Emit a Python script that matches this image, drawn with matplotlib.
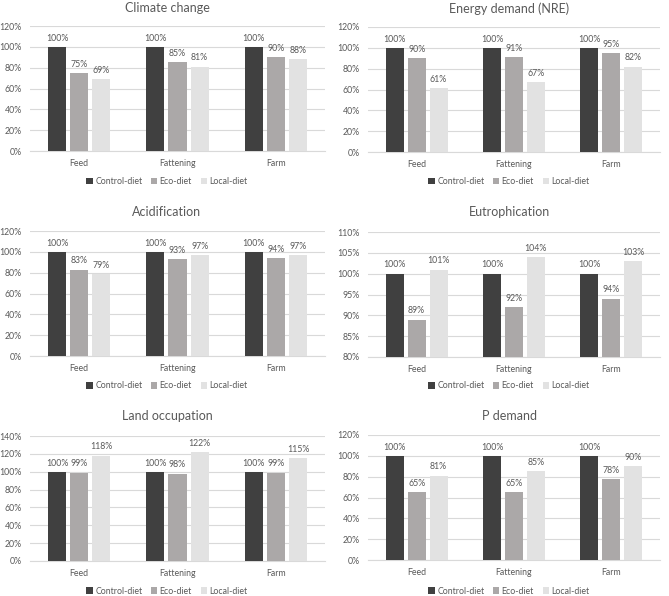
import numpy as np
import matplotlib
matplotlib.use("Agg")
import matplotlib.pyplot as plt
from matplotlib.ticker import PercentFormatter

categories = ["Feed", "Fattening", "Farm"]
series_names = ["Control-diet", "Eco-diet", "Local-diet"]

titles = ["Climate change", "Energy demand (NRE)", "Acidification",
          "Eutrophication", "Land occupation", "P demand"]

climate = [[100, 100, 100], [75, 85, 90], [69, 81, 88]]
energy = [[100, 100, 100], [90, 91, 95], [61, 67, 82]]
acid = [[100, 100, 100], [83, 93, 94], [79, 97, 97]]
eutro = [[100, 100, 100], [89, 92, 94], [101, 104, 103]]
land = [[100, 100, 100], [99, 98, 99], [118, 122, 115]]
pdem = [[100, 100, 100], [65, 65, 78], [81, 85, 90]]
all_data = [climate, energy, acid, eutro, land, pdem]

y_ranges = [(0, 120, 20), (0, 120, 20), (0, 120, 20),
            (80, 110, 5), (0, 140, 20), (0, 120, 20)]

colors = ["#404040", "#ABA8A8", "#E2E2E2"]
text_col = "#595959"
grid_col = "#D9D9D9"

plt.rcParams['font.family'] = ['Lato', 'DejaVu Sans']

W, H = 669, 596
fig = plt.figure(figsize=(W / 100, H / 100), dpi=100)

# plot areas in pixels: left, top, right, bottom
boxes = [(30, 26, 325, 151), (368, 27, 660, 152),
         (30, 231, 325, 356), (368, 232, 660, 357),
         (30, 436, 325, 561), (368, 435, 660, 560)]
title_y = [8, 9, 212, 212, 416, 416]
legend_y = [182, 182, 386, 386, 591, 591]
panel_cx = [167, 509]


def px_axes(l, t, r, b):
    return fig.add_axes([l / W, 1 - b / H, (r - l) / W, (b - t) / H])


x = np.arange(len(categories))
bw = 0.185
gap = 0.04

for i, (box, data, title) in enumerate(zip(boxes, all_data, titles)):
    ax = px_axes(*box)
    lo, hi, step = y_ranges[i]
    for j, (vals, name, c) in enumerate(zip(data, series_names, colors)):
        xs = x + (j - 1) * (bw + gap)
        ax.bar(xs, np.array(vals) - lo, bottom=lo, width=bw,
               color=c, label=name, zorder=3)
        for xx, v in zip(xs, vals):
            ax.annotate(f"{v}%", (xx, v), xytext=(0, 3), textcoords="offset points",
                        ha="center", va="bottom", fontsize=6.3, color=text_col)
    ax.set_ylim(lo, hi)
    ax.set_xlim(-0.5, 2.5)
    ax.set_yticks(np.arange(lo, hi + 0.1, step))
    ax.yaxis.set_major_formatter(PercentFormatter(decimals=0))
    ax.set_xticks(x)
    ax.set_xticklabels(categories)
    ax.grid(axis="y", color=grid_col, linewidth=0.8, zorder=0)
    for s in ["top", "right", "left"]:
        ax.spines[s].set_visible(False)
    ax.spines["bottom"].set_color(grid_col)
    ax.tick_params(axis="both", length=0, labelsize=6.3, colors=text_col)
    ax.tick_params(axis="x", pad=6)
    ax.tick_params(axis="y", pad=6)
    cx = panel_cx[i % 2] / W
    fig.text(cx, 1 - title_y[i] / H, title, ha="center", va="center",
             fontsize=9, color=text_col)
    handles, labels = ax.get_legend_handles_labels()
    fig.legend(handles, labels, loc="center", bbox_to_anchor=(cx, 1 - legend_y[i] / H),
               ncol=3, frameon=False, fontsize=6.3, handlelength=0.7, handleheight=0.7,
               handletextpad=0.3, columnspacing=1.0, labelcolor=text_col)

fig.savefig("out.png", dpi=100, facecolor="white")
